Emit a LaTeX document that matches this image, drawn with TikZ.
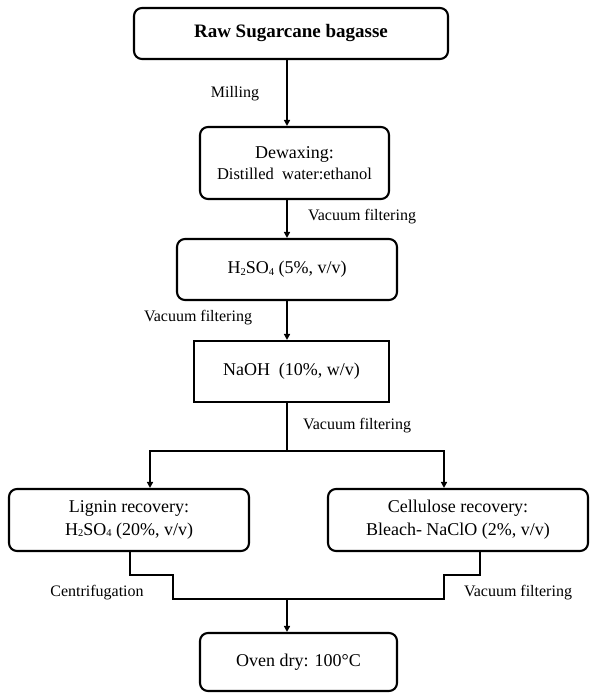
\documentclass[tikz,border=0pt]{standalone}
\usepackage{fontspec}
\setmainfont{Liberation Serif}
\usetikzlibrary{arrows.meta}
\newcommand{\mysub}[1]{\raisebox{-0.15ex}{\fontsize{10.5}{10.5}\selectfont #1}}
\begin{document}
\begin{tikzpicture}[x=1pt,y=-1pt,
  box/.style={draw,line width=2.1pt,rounded corners=8pt,align=center,inner sep=0pt,font=\fontsize{18}{23}\selectfont},
  sqbox/.style={box,rounded corners=0pt},
  lbl/.style={font=\fontsize{16}{18}\selectfont,inner sep=0pt},
  conn/.style={line width=2.1pt},
  arr/.style={conn,-{Triangle[length=6pt,width=6pt]}}]
\useasboundingbox (0,0) rectangle (589,693);
\node[box,minimum width=314pt,minimum height=51pt,font=\fontsize{19}{21}\selectfont\bfseries] (raw) at (291,33.5) {Raw Sugarcane bagasse};
\node[box,minimum width=189pt,minimum height=72pt] (dew) at (294.5,163) {Dewaxing:\\[-2pt]{\fontsize{16.5}{19}\selectfont Distilled\ \ water:ethanol}};
\node[box,minimum width=220pt,minimum height=61pt] (h2) at (287,269.5) {H\mysub{2}SO\mysub{4} (5\%, v/v)};
\node[sqbox,minimum width=195pt,minimum height=61pt] (naoh) at (291.5,371.5) {NaOH\ \ (10\%, w/v)};
\node[box,minimum width=240pt,minimum height=62pt] (lig) at (129,520) {Lignin recovery:\\H\mysub{2}SO\mysub{4} (20\%, v/v)};
\node[box,minimum width=260pt,minimum height=62pt] (cel) at (458,520) {Cellulose recovery:\\Bleach- NaClO (2\%, v/v)};
\node[box,minimum width=197pt,minimum height=58pt] (oven) at (298.5,662) {Oven dry: 100°C};
\coordinate (sp) at (287,0);
\coordinate (split) at (287,451);
\coordinate (join) at (287,599);
\coordinate (lx) at (150,0);
\coordinate (rx) at (444,0);
\draw[arr] (sp |- raw.south) -- (sp |- dew.north);
\draw[arr] (sp |- dew.south) -- (sp |- h2.north);
\draw[arr] (sp |- h2.south) -- (sp |- naoh.north);
\draw[conn] (sp |- naoh.south) -- (split);
\draw[arr] (split) -- (lx |- split) -- (lx |- lig.north);
\draw[arr] (split) -- (rx |- split) -- (rx |- cel.north);
\draw[conn] (130,551) |- (173,575) |- (join);
\draw[conn] (480,551) |- (444,575) |- (join);
\draw[arr] (join) -- (sp |- oven.north);
\node[lbl] (l1) at (235,94) {Milling};
\node[lbl] (l2) at (362,217) {Vacuum filtering};
\node[lbl] (l3) at (198,318) {Vacuum filtering};
\node[lbl] (l4) at (357,426) {Vacuum filtering};
\node[lbl] (l5) at (97,593) {Centrifugation};
\node[lbl] (l6) at (518,593) {Vacuum filtering};
\end{tikzpicture}
\end{document}
